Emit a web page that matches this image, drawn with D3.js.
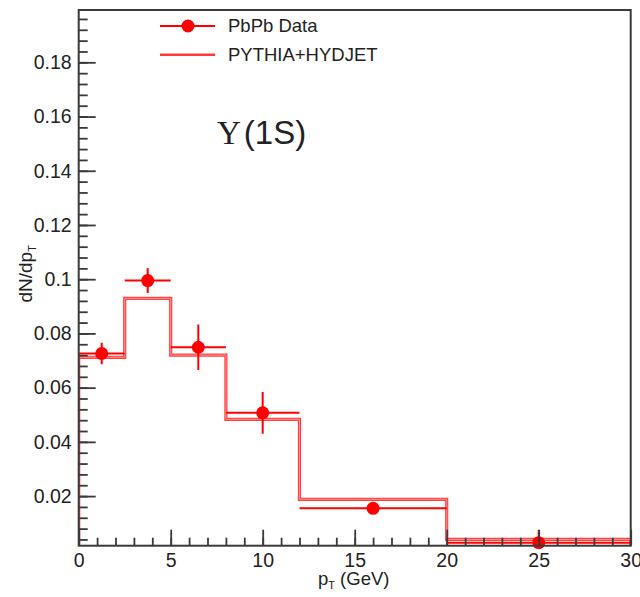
<!DOCTYPE html>
<html>
<head>
<meta charset="utf-8">
<script src="https://cdn.jsdelivr.net/npm/d3@7"></script>
<style>
  body { margin: 0; background: #fff; }
  text { font-family: "Liberation Sans", Arial, Helvetica, sans-serif; fill: #222; }
</style>
</head>
<body>
<div id="chart"></div>
<script>
// pT bins and values
const binEdges = [0, 2.5, 5, 8, 12, 20, 30];
const dataX = [1.25, 3.75, 6.5, 10, 16, 25];
const dataY = [0.0726, 0.0995, 0.0749, 0.0507, 0.0155, 0.0028];
const dataErr = [0.0040, 0.0046, 0.0084, 0.0077, 0.0015, 0.0047];
const mcY = [0.0712, 0.0929, 0.0720, 0.0483, 0.0188, 0.0040];

const yTicks = [0.02, 0.04, 0.06, 0.08, 0.1, 0.12, 0.14, 0.16, 0.18];
const xTicks = [0, 5, 10, 15, 20, 25, 30];
const legendLabels = ["PbPb Data", "PYTHIA+HYDJET"];

const width = 640, height = 597;
const frameL = 78.7, frameR = 630.7, frameT = 10, frameB = 545.7;
const yMin = 0.0017, yMax = 0.1993;
const RED = "#ff0000";
const AXIS_COL = "#3a3a3a";

const svg = d3.select("#chart").append("svg")
    .attr("width", width)
    .attr("height", height);

const x = d3.scaleLinear().domain([0, 30]).range([frameL, frameR]);
const y = d3.scaleLinear().domain([yMin, yMax]).range([frameB, frameT]);

svg.append("defs").append("clipPath").attr("id", "plotClip")
    .append("rect")
        .attr("x", frameL).attr("y", frameT)
        .attr("width", frameR - frameL).attr("height", frameB - frameT);

// MC histogram (step line)
let steps = [[binEdges[0], yMin]];
mcY.forEach((v, i) => {
    steps.push([binEdges[i], v]);
    steps.push([binEdges[i + 1], v]);
});
steps.push([binEdges[binEdges.length - 1], yMin]);

const line = d3.line().x(d => x(d[0])).y(d => y(d[1]));
const hist = svg.append("g").attr("clip-path", "url(#plotClip)");
hist.append("path")
    .attr("d", line(steps))
    .attr("fill", "none")
    .attr("stroke", "#ff4040")
    .attr("stroke-width", 3.2);
hist.append("path")
    .attr("d", line(steps))
    .attr("fill", "none")
    .attr("stroke", "#ff9a9a")
    .attr("stroke-width", 0.9);

// data points with error bars
const pts = dataX.map((v, i) => ({ x: v, y: dataY[i], e: dataErr[i], lo: binEdges[i], hi: binEdges[i + 1] }));
const bars = svg.append("g").attr("clip-path", "url(#plotClip)")
    .attr("stroke", RED).attr("stroke-width", 2);
bars.selectAll(".hbar").data(pts).enter().append("line")
    .attr("x1", d => x(d.lo)).attr("x2", d => x(d.hi))
    .attr("y1", d => y(d.y)).attr("y2", d => y(d.y));
bars.selectAll(".vbar").data(pts).enter().append("line")
    .attr("x1", d => x(d.x)).attr("x2", d => x(d.x))
    .attr("y1", d => y(d.y - d.e)).attr("y2", d => y(d.y + d.e));
svg.append("g").selectAll("circle").data(pts).enter().append("circle")
    .attr("cx", d => x(d.x))
    .attr("cy", d => y(d.y))
    .attr("r", 6.5)
    .attr("fill", RED);

// axes
function styleAxis(g) {
    g.select(".domain").remove();
    g.selectAll("line").attr("stroke", AXIS_COL).attr("stroke-width", 1.8);
    g.selectAll("text").attr("fill", "#222")
        .style("font-family", "'Liberation Sans', Arial, sans-serif")
        .style("font-size", "19.5px");
}

const yMinor = d3.range(0.004, yMax, 0.004).filter(v => v > yMin);
svg.append("g").attr("transform", `translate(${frameL},0)`)
    .call(d3.axisLeft(y).tickValues(yMinor).tickSize(-9).tickFormat(""))
    .call(styleAxis);
svg.append("g").attr("transform", `translate(${frameL},0)`)
    .call(d3.axisLeft(y).tickValues(yTicks).tickSize(-17).tickPadding(7)
        .tickFormat(d => String(+d.toFixed(2))))
    .call(styleAxis);

const xMinor = d3.range(1, 30, 1);
svg.append("g").attr("transform", `translate(0,${frameB})`)
    .call(d3.axisBottom(x).tickValues(xMinor).tickSize(-8).tickFormat(""))
    .call(styleAxis);
svg.append("g").attr("transform", `translate(0,${frameB})`)
    .call(d3.axisBottom(x).tickValues(xTicks).tickSize(-16).tickPadding(7))
    .call(styleAxis);

// frame
svg.append("rect")
    .attr("x", frameL).attr("y", frameT)
    .attr("width", frameR - frameL).attr("height", frameB - frameT)
    .attr("fill", "none")
    .attr("stroke", AXIS_COL)
    .attr("stroke-width", 2);

// axis titles
const xTitle = svg.append("text")
    .attr("x", (frameL + frameR) / 2 - 1)
    .attr("y", 585)
    .attr("text-anchor", "middle")
    .style("font-size", "18.5px");
xTitle.append("tspan").text("p");
xTitle.append("tspan").attr("dy", 4).style("font-size", "11px").text("T");
xTitle.append("tspan").attr("dy", -4).text(" (GeV)");

const yTitle = svg.append("text")
    .attr("transform", `translate(32,${(frameT + frameB) / 2 - 4}) rotate(-90)`)
    .attr("text-anchor", "middle")
    .style("font-size", "19px");
yTitle.append("tspan").text("dN/dp");
yTitle.append("tspan").attr("dy", 4).style("font-size", "11px").text("T");

// particle label
const lbl = svg.append("text")
    .attr("x", 217)
    .attr("y", 144)
    .style("font-size", "33px");
lbl.append("tspan").style("font-family", "'Liberation Serif', 'Times New Roman', serif").text("\u03A5");
lbl.append("tspan").attr("dx", 3).text("(1S)");

// legend
const leg = svg.append("g");
leg.append("line")
    .attr("x1", 160).attr("x2", 215).attr("y1", 26).attr("y2", 26)
    .attr("stroke", RED).attr("stroke-width", 2);
leg.append("circle").attr("cx", 188).attr("cy", 26).attr("r", 6.5).attr("fill", RED);
leg.append("line")
    .attr("x1", 160).attr("x2", 215).attr("y1", 54.7).attr("y2", 54.7)
    .attr("stroke", "#ff3a3a").attr("stroke-width", 2.5);
leg.selectAll("text").data(legendLabels).enter().append("text")
    .attr("x", 228)
    .attr("y", (d, i) => 32 + i * 28.7)
    .style("font-size", "18.5px")
    .text(d => d);
</script>
</body>
</html>
